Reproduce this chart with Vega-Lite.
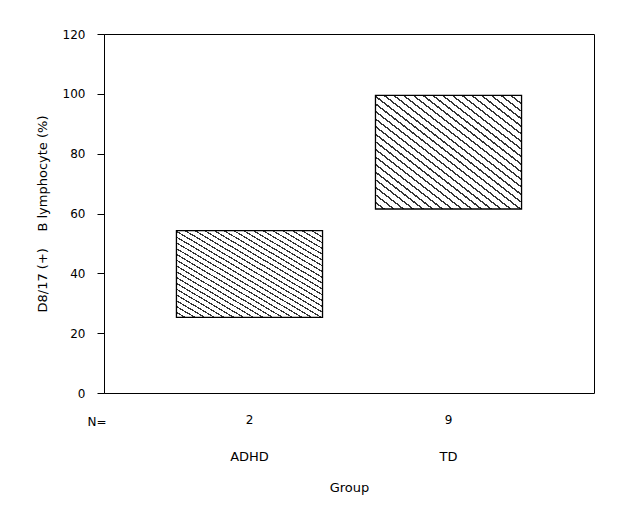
{
  "$schema": "https://vega.github.io/schema/vega-lite/v6.json",
  "width": 490,
  "height": 359,
  "autosize": "none",
  "padding": {"left": 104, "top": 34, "right": 24, "bottom": 125},
  "background": "white",
  "config": {
    "view": {"stroke": "black", "strokeWidth": 1},
    "font": "DejaVu Sans",
    "axis": {"labelColor": "black", "titleColor": "black", "labelFontSize": 12, "titleFontSize": 13, "titleFontWeight": "normal", "domainColor": "black", "tickColor": "black", "grid": false}
  },
  "data": {"values": [
    {"group": "ADHD", "n": "2", "low": 25.3, "high": 54.3},
    {"group": "TD", "n": "9", "low": 61.5, "high": 99.5}
  ]},
  "layer": [
    {
      "mark": {"type": "bar", "stroke": null, "fill": {"gradient": "linear", "x1": 0, "y1": 1, "x2": 1, "y2": 0, "stops": [
        {"offset": 0, "color": "#ffffff"}, {"offset": 0.0253, "color": "#ffffff"}, {"offset": 0.0253, "color": "#333333"}, {"offset": 0.0333, "color": "#333333"},
        {"offset": 0.0333, "color": "#ffffff"}, {"offset": 0.0587, "color": "#ffffff"}, {"offset": 0.0587, "color": "#333333"}, {"offset": 0.0667, "color": "#333333"},
        {"offset": 0.0667, "color": "#ffffff"}, {"offset": 0.092, "color": "#ffffff"}, {"offset": 0.092, "color": "#333333"}, {"offset": 0.1, "color": "#333333"},
        {"offset": 0.1, "color": "#ffffff"}, {"offset": 0.1253, "color": "#ffffff"}, {"offset": 0.1253, "color": "#333333"}, {"offset": 0.1333, "color": "#333333"},
        {"offset": 0.1333, "color": "#ffffff"}, {"offset": 0.1587, "color": "#ffffff"}, {"offset": 0.1587, "color": "#333333"}, {"offset": 0.1667, "color": "#333333"},
        {"offset": 0.1667, "color": "#ffffff"}, {"offset": 0.192, "color": "#ffffff"}, {"offset": 0.192, "color": "#333333"}, {"offset": 0.2, "color": "#333333"},
        {"offset": 0.2, "color": "#ffffff"}, {"offset": 0.2253, "color": "#ffffff"}, {"offset": 0.2253, "color": "#333333"}, {"offset": 0.2333, "color": "#333333"},
        {"offset": 0.2333, "color": "#ffffff"}, {"offset": 0.2587, "color": "#ffffff"}, {"offset": 0.2587, "color": "#333333"}, {"offset": 0.2667, "color": "#333333"},
        {"offset": 0.2667, "color": "#ffffff"}, {"offset": 0.292, "color": "#ffffff"}, {"offset": 0.292, "color": "#333333"}, {"offset": 0.3, "color": "#333333"},
        {"offset": 0.3, "color": "#ffffff"}, {"offset": 0.3253, "color": "#ffffff"}, {"offset": 0.3253, "color": "#333333"}, {"offset": 0.3333, "color": "#333333"},
        {"offset": 0.3333, "color": "#ffffff"}, {"offset": 0.3587, "color": "#ffffff"}, {"offset": 0.3587, "color": "#333333"}, {"offset": 0.3667, "color": "#333333"},
        {"offset": 0.3667, "color": "#ffffff"}, {"offset": 0.392, "color": "#ffffff"}, {"offset": 0.392, "color": "#333333"}, {"offset": 0.4, "color": "#333333"},
        {"offset": 0.4, "color": "#ffffff"}, {"offset": 0.4253, "color": "#ffffff"}, {"offset": 0.4253, "color": "#333333"}, {"offset": 0.4333, "color": "#333333"},
        {"offset": 0.4333, "color": "#ffffff"}, {"offset": 0.4587, "color": "#ffffff"}, {"offset": 0.4587, "color": "#333333"}, {"offset": 0.4667, "color": "#333333"},
        {"offset": 0.4667, "color": "#ffffff"}, {"offset": 0.492, "color": "#ffffff"}, {"offset": 0.492, "color": "#333333"}, {"offset": 0.5, "color": "#333333"},
        {"offset": 0.5, "color": "#ffffff"}, {"offset": 0.5253, "color": "#ffffff"}, {"offset": 0.5253, "color": "#333333"}, {"offset": 0.5333, "color": "#333333"},
        {"offset": 0.5333, "color": "#ffffff"}, {"offset": 0.5587, "color": "#ffffff"}, {"offset": 0.5587, "color": "#333333"}, {"offset": 0.5667, "color": "#333333"},
        {"offset": 0.5667, "color": "#ffffff"}, {"offset": 0.592, "color": "#ffffff"}, {"offset": 0.592, "color": "#333333"}, {"offset": 0.6, "color": "#333333"},
        {"offset": 0.6, "color": "#ffffff"}, {"offset": 0.6253, "color": "#ffffff"}, {"offset": 0.6253, "color": "#333333"}, {"offset": 0.6333, "color": "#333333"},
        {"offset": 0.6333, "color": "#ffffff"}, {"offset": 0.6587, "color": "#ffffff"}, {"offset": 0.6587, "color": "#333333"}, {"offset": 0.6667, "color": "#333333"},
        {"offset": 0.6667, "color": "#ffffff"}, {"offset": 0.692, "color": "#ffffff"}, {"offset": 0.692, "color": "#333333"}, {"offset": 0.7, "color": "#333333"},
        {"offset": 0.7, "color": "#ffffff"}, {"offset": 0.7253, "color": "#ffffff"}, {"offset": 0.7253, "color": "#333333"}, {"offset": 0.7333, "color": "#333333"},
        {"offset": 0.7333, "color": "#ffffff"}, {"offset": 0.7587, "color": "#ffffff"}, {"offset": 0.7587, "color": "#333333"}, {"offset": 0.7667, "color": "#333333"},
        {"offset": 0.7667, "color": "#ffffff"}, {"offset": 0.792, "color": "#ffffff"}, {"offset": 0.792, "color": "#333333"}, {"offset": 0.8, "color": "#333333"},
        {"offset": 0.8, "color": "#ffffff"}, {"offset": 0.8253, "color": "#ffffff"}, {"offset": 0.8253, "color": "#333333"}, {"offset": 0.8333, "color": "#333333"},
        {"offset": 0.8333, "color": "#ffffff"}, {"offset": 0.8587, "color": "#ffffff"}, {"offset": 0.8587, "color": "#333333"}, {"offset": 0.8667, "color": "#333333"},
        {"offset": 0.8667, "color": "#ffffff"}, {"offset": 0.892, "color": "#ffffff"}, {"offset": 0.892, "color": "#333333"}, {"offset": 0.9, "color": "#333333"},
        {"offset": 0.9, "color": "#ffffff"}, {"offset": 0.9253, "color": "#ffffff"}, {"offset": 0.9253, "color": "#333333"}, {"offset": 0.9333, "color": "#333333"},
        {"offset": 0.9333, "color": "#ffffff"}, {"offset": 0.9587, "color": "#ffffff"}, {"offset": 0.9587, "color": "#333333"}, {"offset": 0.9667, "color": "#333333"},
        {"offset": 0.9667, "color": "#ffffff"}, {"offset": 0.992, "color": "#ffffff"}, {"offset": 0.992, "color": "#333333"}, {"offset": 1, "color": "#333333"}
      ]}},
      "encoding": {
        "x": {"field": "group", "type": "nominal", "scale": {"paddingInner": 0.266, "paddingOuter": 0.364},
              "axis": {"orient": "bottom", "title": "Group", "labelAngle": 0, "labelFontSize": 13, "ticks": false, "domain": false, "labelPadding": 57, "titlePadding": 18}},
        "y": {"field": "low", "type": "quantitative", "scale": {"domain": [0, 120]},
              "axis": {"values": [0, 20, 40, 60, 80, 100, 120], "tickSize": 7, "labelPadding": 12, "title": "D8/17\u00a0(+)\u00a0\u00a0\u00a0\u00a0B\u00a0lymphocyte\u00a0(%)", "titlePadding": 13}},
        "y2": {"field": "high"}
      }
    },
    {
      "mark": {"type": "bar", "filled": false, "stroke": "black", "strokeWidth": 1.3},
      "encoding": {
        "x": {"field": "n", "type": "nominal", "scale": {"paddingInner": 0.266, "paddingOuter": 0.364},
              "axis": {"orient": "bottom", "title": "N=", "titleFontSize": 12, "labelAngle": 0, "ticks": false, "domain": false, "labelPadding": 21, "titleAngle": 0, "titleAlign": "right", "titleBaseline": "middle", "titleX": 2, "titleY": 28}},
        "y": {"field": "low", "type": "quantitative"},
        "y2": {"field": "high"}
      }
    }
  ],
  "resolve": {"scale": {"x": "independent"}, "axis": {"x": "independent"}}
}
